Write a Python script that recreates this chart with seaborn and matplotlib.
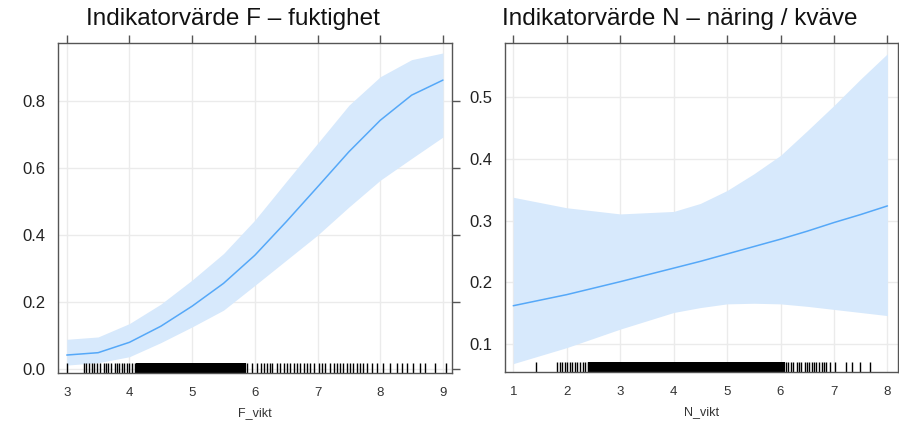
import matplotlib
matplotlib.use("Agg")
import matplotlib.pyplot as plt
import numpy as np
import pandas as pd
import seaborn as sns

# F_vikt effect (fit + confidence band)
f_x = [3.0, 3.5, 4.0, 4.5, 5.0, 5.5, 6.0, 6.5, 7.0, 7.5, 8.0, 8.5, 9.0]
f_fit = [0.042, 0.049, 0.080, 0.128, 0.188, 0.256, 0.340, 0.440, 0.544, 0.649, 0.743, 0.818, 0.863]
f_upper = [0.089, 0.096, 0.136, 0.194, 0.266, 0.345, 0.445, 0.560, 0.674, 0.788, 0.873, 0.924, 0.944]
f_lower = [0.012, 0.019, 0.037, 0.079, 0.126, 0.176, 0.250, 0.325, 0.400, 0.484, 0.564, 0.629, 0.693]

# N_vikt effect
n_x = [1.0, 2.0, 3.0, 4.0, 4.5, 5.0, 5.5, 6.0, 6.5, 7.0, 7.5, 8.0]
n_fit = [0.162, 0.180, 0.201, 0.223, 0.234, 0.246, 0.258, 0.270, 0.283, 0.297, 0.310, 0.324]
n_upper = [0.338, 0.321, 0.311, 0.315, 0.328, 0.349, 0.376, 0.406, 0.446, 0.487, 0.530, 0.571]
n_lower = [0.068, 0.094, 0.124, 0.151, 0.159, 0.165, 0.166, 0.165, 0.161, 0.156, 0.151, 0.146]

# observed values (rug), sparse parts and the dense middle stretch
f_rug_sparse = [3.0, 3.27, 3.31, 3.36, 3.40, 3.44, 3.49, 3.53, 3.60, 3.63, 3.66, 3.70,
                3.77, 3.80, 3.84, 3.88, 3.91, 3.96, 4.00, 4.04, 4.09,
                5.87, 5.95, 6.03, 6.09, 6.14, 6.19, 6.24, 6.27, 6.35, 6.40, 6.46, 6.51,
                6.56, 6.62, 6.67, 6.72, 6.78, 6.83, 6.88, 6.94, 7.02, 7.07, 7.12, 7.20,
                7.26, 7.31, 7.36, 7.41, 7.47, 7.52, 7.57, 7.63, 7.68, 7.73, 7.79, 7.87,
                7.95, 8.05, 8.16, 8.27, 8.35, 8.43, 8.53, 8.64, 8.72, 8.88, 9.05]
f_rug_dense = [4.14, 4.18, 4.22, 4.26, 4.30, 4.34, 4.38, 4.42, 4.46, 4.50, 4.54, 4.58,
               4.62, 4.66, 4.70, 4.74, 4.78, 4.82, 4.86, 4.90, 4.94, 4.98, 5.02, 5.06,
               5.10, 5.14, 5.18, 5.22, 5.26, 5.30, 5.34, 5.38, 5.42, 5.46, 5.50, 5.54,
               5.58, 5.62, 5.66, 5.70, 5.74, 5.78, 5.82]
n_rug_sparse = [1.42, 1.82, 1.87, 1.92, 1.97, 2.01, 2.06, 2.10, 2.15, 2.20, 2.25, 2.30,
                2.35, 2.40, 6.10, 6.14, 6.19, 6.24, 6.30, 6.35, 6.39, 6.46, 6.49, 6.54,
                6.58, 6.62, 6.67, 6.72, 6.77, 6.81, 6.86, 6.92, 7.02, 7.23, 7.33, 7.48, 7.67]
n_rug_dense = [2.44, 2.48, 2.52, 2.56, 2.60, 2.64, 2.68, 2.72, 2.76, 2.80, 2.84, 2.88,
               2.92, 2.96, 3.00, 3.04, 3.08, 3.12, 3.16, 3.20, 3.24, 3.28, 3.32, 3.36,
               3.40, 3.44, 3.48, 3.52, 3.56, 3.60, 3.64, 3.68, 3.72, 3.76, 3.80, 3.84,
               3.88, 3.92, 3.96, 4.00, 4.04, 4.08, 4.12, 4.16, 4.20, 4.24, 4.28, 4.32,
               4.36, 4.40, 4.44, 4.48, 4.52, 4.56, 4.60, 4.64, 4.68, 4.72, 4.76, 4.80,
               4.84, 4.88, 4.92, 4.96, 5.00, 5.04, 5.08, 5.12, 5.16, 5.20, 5.24, 5.28,
               5.32, 5.36, 5.40, 5.44, 5.48, 5.52, 5.56, 5.60, 5.64, 5.68, 5.72, 5.76,
               5.80, 5.84, 5.88, 5.92, 5.96, 6.00, 6.04]

titles = ['Indikatorvärde F – fuktighet', 'Indikatorvärde N – näring / kväve']
xlabels = ['F_vikt', 'N_vikt']

sns.set_style("white")
plt.rcParams['font.family'] = ['Liberation Sans', 'DejaVu Sans']

LINE = '#55a8f8'
BAND = '#d7e9fc'
FRAME = '#555555'

fig = plt.figure(figsize=(8.99, 4.24), dpi=100)
ax_f = fig.add_axes([0.0645, 0.120, 0.438, 0.778])
ax_n = fig.add_axes([0.562, 0.122, 0.437, 0.776])

panels = [
    (ax_f, f_x, f_fit, f_lower, f_upper, f_rug_sparse, f_rug_dense,
     (2.86, 9.14), (-0.012, 0.973), [3, 4, 5, 6, 7, 8, 9], [0.0, 0.2, 0.4, 0.6, 0.8]),
    (ax_n, n_x, n_fit, n_lower, n_upper, n_rug_sparse, n_rug_dense,
     (0.85, 8.2), (0.054, 0.588), [1, 2, 3, 4, 5, 6, 7, 8], [0.1, 0.2, 0.3, 0.4, 0.5]),
]

for i, (ax, x, fit, lo, hi, rs, rd, xlim, ylim, xt, yt) in enumerate(panels):
    ax.set_xlim(*xlim)
    ax.set_ylim(*ylim)
    ax.set_xticks(xt)
    ax.set_yticks(yt)
    ax.grid(True, color='#ebebeb', linewidth=1.0)
    ax.set_axisbelow(True)

    ax.fill_between(x, lo, hi, color=BAND, linewidth=0, zorder=2)
    df = pd.DataFrame({'x': x, 'fit': fit})
    sns.lineplot(data=df, x='x', y='fit', ax=ax, color=LINE, linewidth=1.1, zorder=3)

    sns.rugplot(x=rs, ax=ax, height=0.03, color='black', linewidth=1.0, expand_margins=False)
    sns.rugplot(x=rd, ax=ax, height=0.03, color='black', linewidth=3.0, expand_margins=False)
    ax.set_xlim(*xlim)
    ax.set_ylim(*ylim)

    ax.yaxis.set_major_formatter(matplotlib.ticker.FormatStrFormatter('%.1f'))
    ax.tick_params(axis='both', which='major', direction='out', length=6,
                   color=FRAME, width=1.0, top=True, right=True,
                   labeltop=False, labelright=False)
    ax.tick_params(axis='x', labelsize=9.5, labelcolor='#333333', pad=4)
    ax.tick_params(axis='y', labelsize=12, labelcolor='#222222', pad=3)
    for sp in ax.spines.values():
        sp.set_color(FRAME)
        sp.set_linewidth(1.0)
    ax.set_xlabel(xlabels[i], fontsize=9, color='#333333', labelpad=6)
    ax.set_ylabel('')

fig.text(233 / 899, 0.956, titles[0], ha='center', va='center', fontsize=17.5, color='#111111')
fig.text(680 / 899, 0.956, titles[1], ha='center', va='center', fontsize=17.5, color='#111111')

fig.savefig('out.png', dpi=100)
